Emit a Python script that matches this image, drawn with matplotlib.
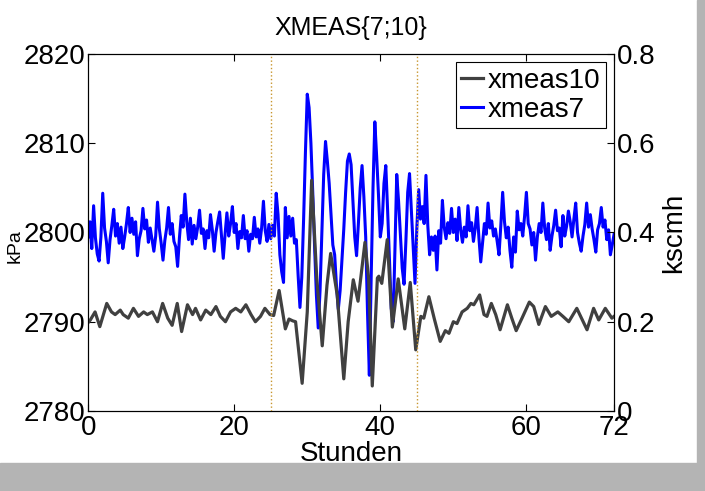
import numpy as np
import matplotlib
matplotlib.use("Agg")
import matplotlib.pyplot as plt
from matplotlib.patches import Rectangle

plt.rcParams['font.family'] = ['Liberation Sans', 'DejaVu Sans']
plt.rcParams['font.size'] = 20

xmeas7 = [
    2799.5, 2801.2, 2798.2, 2803.0, 2799.4, 2797.6, 2796.8, 2799.5,
    2804.4, 2800.5, 2799.0, 2796.6, 2799.2, 2800.8, 2802.6, 2799.6,
    2801.0, 2798.8, 2800.6, 2798.2, 2799.5, 2801.0, 2802.8, 2800.0,
    2801.6, 2799.8, 2801.2, 2797.4, 2799.3, 2800.2, 2802.7, 2800.4,
    2801.4, 2798.9, 2800.5, 2799.2, 2797.9, 2799.6, 2803.4, 2800.4,
    2798.8, 2796.9, 2799.1, 2800.5, 2802.8, 2799.8, 2801.0, 2799.0,
    2798.4, 2796.2, 2799.4, 2801.9, 2800.6, 2804.3, 2801.2, 2799.2,
    2801.6, 2798.7, 2800.8, 2799.3, 2800.6, 2802.5, 2799.9, 2800.4,
    2798.2, 2800.2, 2799.4, 2802.0, 2800.3, 2797.9, 2800.0, 2801.2,
    2802.3, 2799.7, 2797.1, 2799.8, 2802.2, 2799.6, 2801.0, 2802.9,
    2800.0, 2801.0, 2798.2, 2800.1, 2799.4, 2801.9, 2799.3, 2800.2,
    2797.9, 2799.8, 2799.3, 2801.7, 2799.5, 2800.4, 2798.8, 2800.5,
    2803.5, 2800.2, 2799.0, 2800.9, 2799.3, 2800.8, 2799.6, 2804.4,
    2802.0, 2797.5, 2795.6, 2794.4, 2802.8, 2799.4, 2801.8, 2799.6,
    2801.6, 2798.8, 2799.2, 2795.2, 2791.6, 2795.0, 2801.5, 2809.0,
    2815.5, 2814.0, 2810.0, 2804.5, 2798.5, 2793.0, 2789.3, 2793.5,
    2800.0, 2806.5, 2810.2, 2808.0, 2805.5, 2802.0, 2798.6, 2797.5,
    2794.0, 2791.4, 2793.5, 2797.0, 2800.4, 2804.5, 2808.0, 2808.8,
    2807.6, 2803.5, 2799.5, 2797.4, 2801.0, 2805.0, 2807.5, 2804.0,
    2799.5, 2791.0, 2784.0, 2795.0, 2805.0, 2812.4, 2808.5, 2804.2,
    2799.5, 2801.0, 2805.5, 2807.5, 2802.5, 2797.0, 2791.5, 2790.0,
    2798.0, 2806.5, 2803.5, 2799.7, 2796.0, 2794.2, 2799.0, 2804.5,
    2806.6, 2802.5, 2798.6, 2794.3, 2800.5, 2804.8, 2801.5, 2802.9,
    2801.0, 2806.4, 2800.8, 2797.5, 2799.5, 2798.0, 2799.6, 2795.8,
    2800.2, 2798.8, 2803.6, 2800.6, 2799.3, 2801.1, 2799.9, 2802.7,
    2800.0, 2801.5, 2799.1, 2802.8, 2800.3, 2798.9, 2800.6, 2799.5,
    2803.0, 2800.2, 2801.1, 2799.0, 2800.5, 2802.8, 2799.4, 2796.7,
    2798.8, 2801.0, 2799.8, 2803.3, 2800.5, 2801.3, 2799.6, 2800.4,
    2799.0, 2797.5, 2800.8, 2804.5, 2801.2, 2799.4, 2800.6, 2798.0,
    2796.1, 2799.5, 2797.8, 2802.4, 2800.3, 2801.0, 2799.6, 2801.8,
    2804.5, 2801.0, 2800.4, 2798.6, 2800.0, 2796.9, 2799.5, 2801.0,
    2800.0, 2803.3, 2800.5, 2799.2, 2801.0, 2798.0, 2799.6, 2800.8,
    2802.5, 2800.2, 2800.5, 2798.4, 2801.9, 2799.6, 2800.7, 2802.4,
    2801.2, 2799.5, 2801.5, 2803.3, 2800.0, 2798.8, 2797.9, 2799.6,
    2800.9, 2803.3, 2800.6, 2802.0, 2800.4, 2799.2, 2797.8, 2800.3,
    2801.0, 2802.8, 2800.6, 2801.4, 2799.2, 2800.3, 2797.5, 2798.6,
    2799.8,
]
xmeas7_hours = np.arange(len(xmeas7)) * 0.25

# xmeas10 (purge rate, kscmh), turning points
xmeas10_hours = [
    0.0, 0.3, 0.95, 1.6, 2.55, 3.2, 3.7, 4.4, 4.8, 5.5, 6.2, 6.9, 7.6, 8.1,
    8.8, 9.5, 10.2, 10.9, 11.5, 12.2, 12.8, 13.6, 14.3, 14.7, 15.4, 16.1,
    16.8, 17.5, 18.1, 18.8, 19.5, 20.2, 20.9, 21.6, 22.3, 22.9, 23.6, 24.2,
    24.9, 25.4, 26.15, 27.0, 27.5, 28.0, 28.4, 29.3, 30.0, 30.6, 31.3, 32.05,
    32.7, 33.2, 34.1, 35.0, 35.6, 36.3, 36.95, 37.9, 38.4, 38.9, 39.6, 39.8,
    40.2, 40.95, 41.65, 42.45, 43.35, 44.1, 44.85, 45.55, 45.95, 46.65, 47.4,
    48.2, 48.9, 49.4, 50.0, 50.5, 51.2, 51.9, 52.4, 52.8, 53.6, 54.2, 54.6,
    55.2, 55.8, 56.4, 57.4, 58.0, 58.6, 59.4, 60.4, 61.0, 61.7, 62.6, 63.4,
    64.3, 65.0, 65.8, 66.9, 68.3, 69.2, 69.9, 70.8, 71.7, 72.0,
]
xmeas10 = [
    0.198, 0.204, 0.222, 0.189, 0.241, 0.222, 0.216, 0.226, 0.216, 0.208,
    0.230, 0.212, 0.222, 0.216, 0.222, 0.200, 0.241, 0.208, 0.192, 0.241,
    0.178, 0.238, 0.216, 0.230, 0.204, 0.226, 0.216, 0.234, 0.212, 0.200,
    0.222, 0.230, 0.222, 0.238, 0.216, 0.200, 0.212, 0.230, 0.216, 0.214,
    0.270, 0.184, 0.206, 0.202, 0.200, 0.062, 0.222, 0.517, 0.298, 0.146,
    0.282, 0.353, 0.260, 0.072, 0.200, 0.294, 0.246, 0.378, 0.298, 0.056,
    0.298, 0.302, 0.286, 0.384, 0.188, 0.296, 0.184, 0.288, 0.137, 0.212,
    0.208, 0.256, 0.206, 0.156, 0.180, 0.174, 0.200, 0.196, 0.222, 0.230,
    0.241, 0.238, 0.260, 0.216, 0.212, 0.241, 0.216, 0.182, 0.238, 0.208,
    0.180, 0.208, 0.244, 0.234, 0.194, 0.234, 0.212, 0.222, 0.212, 0.200,
    0.230, 0.182, 0.230, 0.204, 0.230, 0.208, 0.212,
]

fault_hours = [25, 45]
x_ticks = [0, 20, 40, 60, 72]
kpa_ticks = [2780, 2790, 2800, 2810, 2820]
kscmh_ticks = [0, 0.2, 0.4, 0.6, 0.8]
kscmh_labels = ['0', '0.2', '0.4', '0.6', '0.8']

fig = plt.figure(figsize=(7.05, 4.91), dpi=100)
ax1 = fig.add_axes([0.125, 0.163, 0.746, 0.727])
ax2 = ax1.twinx()

l7, = ax1.plot(xmeas7_hours, xmeas7, color='#0000ff', lw=2.2,
               solid_joinstyle='round', label='xmeas7')
l10, = ax2.plot(xmeas10_hours, xmeas10, color='#404040', lw=2.3,
                solid_joinstyle='round', label='xmeas10')

# fault window
for h in fault_hours:
    ax2.axvline(h, color='#c8962e', lw=1.0, ls=':', zorder=3)

ax1.set_xlim(0, 72)
ax1.set_ylim(2780, 2820)
ax2.set_ylim(0, 0.8)
ax1.set_xticks(x_ticks)
ax1.set_yticks(kpa_ticks)
ax2.set_yticks(kscmh_ticks)
ax2.set_yticklabels(kscmh_labels)

ax1.tick_params(axis='x', direction='in', top=True, length=5, pad=3)
ax1.tick_params(axis='y', direction='in', length=5, pad=2)
ax2.tick_params(axis='y', direction='in', length=5, pad=2)

ax1.set_xlabel('Stunden', labelpad=0)
ax1.set_ylabel('kPa', fontsize=14)
ax1.yaxis.set_label_coords(-0.122, 0.463)
ax2.set_ylabel('kscmh', labelpad=4)
ax1.set_title('XMEAS{7;10}', fontsize=18, pad=14)

leg = ax2.legend([l10, l7], ['xmeas10', 'xmeas7'], loc='upper right',
                 fancybox=False, edgecolor='black', framealpha=1,
                 handlelength=0.8, handletextpad=0.15, borderpad=0.2,
                 labelspacing=0.1, borderaxespad=0.3)
leg.get_frame().set_linewidth(0.8)

# screenshot edge strips
fig.patches.append(Rectangle((0, 0), 1, 0.057, transform=fig.transFigure,
                             color='#b4b4b4', zorder=-1))
fig.patches.append(Rectangle((0.989, 0.057), 0.011, 0.943, transform=fig.transFigure,
                             color='#b4b4b4', zorder=-1))

fig.savefig('out.png', dpi=100)
